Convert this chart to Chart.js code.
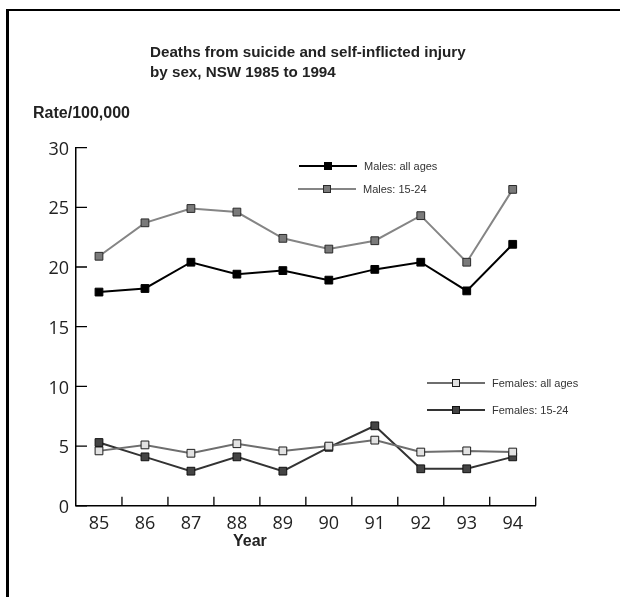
<!DOCTYPE html>
<html>
<head>
<meta charset="utf-8">
<script src="https://cdn.jsdelivr.net/npm/chart.js@4.4.1/dist/chart.umd.min.js"></script>
<style>
  html, body { margin: 0; padding: 0; background: #fff; }
  #wrap { position: relative; width: 620px; height: 597px; overflow: hidden; font-family: "Liberation Sans", Arial, sans-serif; }
  #frame { position: absolute; left: 6px; top: 9px; width: 700px; height: 700px; border-left: 3px solid #000; border-top: 2px solid #000; }
  canvas { position: absolute; left: 0; top: 0; }
  .title { position: absolute; left: 150px; top: 42px; font-size: 15.2px; font-weight: bold; line-height: 20px; color: #222; }
  .ylab { position: absolute; left: 33px; top: 104px; font-size: 16px; font-weight: bold; color: #222; }
  .xlab { position: absolute; left: 233px; top: 532px; font-size: 16px; font-weight: bold; color: #222; }
  .leg { position: absolute; font-size: 11px; color: #333; height: 14px; line-height: 14px; }
  .leg .ln { position: absolute; left: 0; top: 6px; width: 58px; height: 2px; }
  .leg .mk { position: absolute; left: 25px; top: 3px; width: 6px; height: 6px; border: 1px solid #222; }
  .leg .tx { position: absolute; left: 65px; top: 0; white-space: nowrap; }
</style>
</head>
<body>
<div id="wrap">
  <canvas id="chart" width="620" height="597"></canvas>
  <div id="frame"></div>
  <div class="title">Deaths from suicide and self-inflicted injury<br>by sex, NSW 1985 to 1994</div>
  <div class="ylab">Rate/100,000</div>
  <div class="xlab">Year</div>
  <div id="legends"></div>
</div>
<script>
const years = ["85", "86", "87", "88", "89", "90", "91", "92", "93", "94"];
const malesAll = [17.9, 18.2, 20.4, 19.4, 19.7, 18.9, 19.8, 20.4, 18.0, 21.9];
const males1524 = [20.9, 23.7, 24.9, 24.6, 22.4, 21.5, 22.2, 24.3, 20.4, 26.5];
const femalesAll = [4.6, 5.1, 4.4, 5.2, 4.6, 5.0, 5.5, 4.5, 4.6, 4.5];
const females1524 = [5.3, 4.1, 2.9, 4.1, 2.9, 4.9, 6.7, 3.1, 3.1, 4.1];

// line colour, marker fill, marker border
const series = [
  { label: "Males: all ages", data: malesAll, line: "#000000", fill: "#000000", edge: "#000000", legX: 299, legY: 159 },
  { label: "Males: 15-24", data: males1524, line: "#858585", fill: "#7a7a7a", edge: "#2a2a2a", legX: 298, legY: 182 },
  { label: "Females: all ages", data: femalesAll, line: "#6e6e6e", fill: "#e2e2e2", edge: "#1e1e1e", legX: 427, legY: 376 },
  { label: "Females: 15-24", data: females1524, line: "#333333", fill: "#444444", edge: "#111111", legX: 427, legY: 403 },
];

// Legends sit inside the plot, split in two groups.
const legends = document.getElementById("legends");
series.forEach(function (s) {
  const el = document.createElement("div");
  el.className = "leg";
  el.style.left = s.legX + "px";
  el.style.top = s.legY + "px";
  el.innerHTML =
    '<div class="ln" style="background:' + s.line + '"></div>' +
    '<div class="mk" style="background:' + s.fill + ';border-color:' + s.edge + '"></div>' +
    '<div class="tx">' + s.label + "</div>";
  legends.appendChild(el);
});

// Short tick marks pointing into the plot.
const innerTicks = {
  id: "innerTicks",
  afterDraw(chart) {
    const ctx = chart.ctx;
    const xs = chart.scales.x;
    const ys = chart.scales.y;
    const area = chart.chartArea;
    ctx.save();
    ctx.strokeStyle = "#000";
    ctx.lineWidth = 1.3;
    ctx.beginPath();
    ys.ticks.forEach(function (t, i) {
      const py = ys.getPixelForTick(i);
      ctx.moveTo(area.left, py);
      ctx.lineTo(area.left + 11, py);
    });
    for (let i = 1; i <= years.length; i++) {
      const px = i < years.length
        ? (xs.getPixelForTick(i - 1) + xs.getPixelForTick(i)) / 2
        : area.right;
      ctx.moveTo(px, area.bottom);
      ctx.lineTo(px, area.bottom - 9);
    }
    ctx.stroke();
    ctx.restore();
  },
};

new Chart(document.getElementById("chart"), {
  type: "line",
  data: {
    labels: years,
    datasets: series.map(function (s) {
      return {
        label: s.label,
        data: s.data,
        borderColor: s.line,
        borderWidth: 2,
        backgroundColor: s.fill,
        pointBackgroundColor: s.fill,
        pointBorderColor: s.edge,
        pointBorderWidth: 1,
        pointStyle: "rect",
        pointRadius: 5.5,
        tension: 0,
      };
    }),
  },
  options: {
    responsive: false,
    animation: false,
    layout: { padding: { left: 0, top: 147.6, right: 84.3, bottom: 51.2 } },
    plugins: { legend: { display: false }, tooltip: { enabled: false } },
    scales: {
      x: {
        offset: true,
        grid: { display: false, drawTicks: false },
        border: { display: true, color: "#000", width: 1.5 },
        ticks: { color: "#222", padding: 7, font: { family: "Open Sans", size: 18 } },
        afterFit(scale) { scale.height = 40; },
      },
      y: {
        min: 0,
        max: 30,
        grid: { display: false, drawTicks: false },
        border: { display: true, color: "#000", width: 1.5 },
        ticks: { stepSize: 5, color: "#222", padding: 7, labelOffset: 2, font: { family: "Open Sans", size: 18 } },
        afterFit(scale) { scale.width = 76; },
      },
    },
  },
  plugins: [innerTicks],
});
</script>
</body>
</html>
